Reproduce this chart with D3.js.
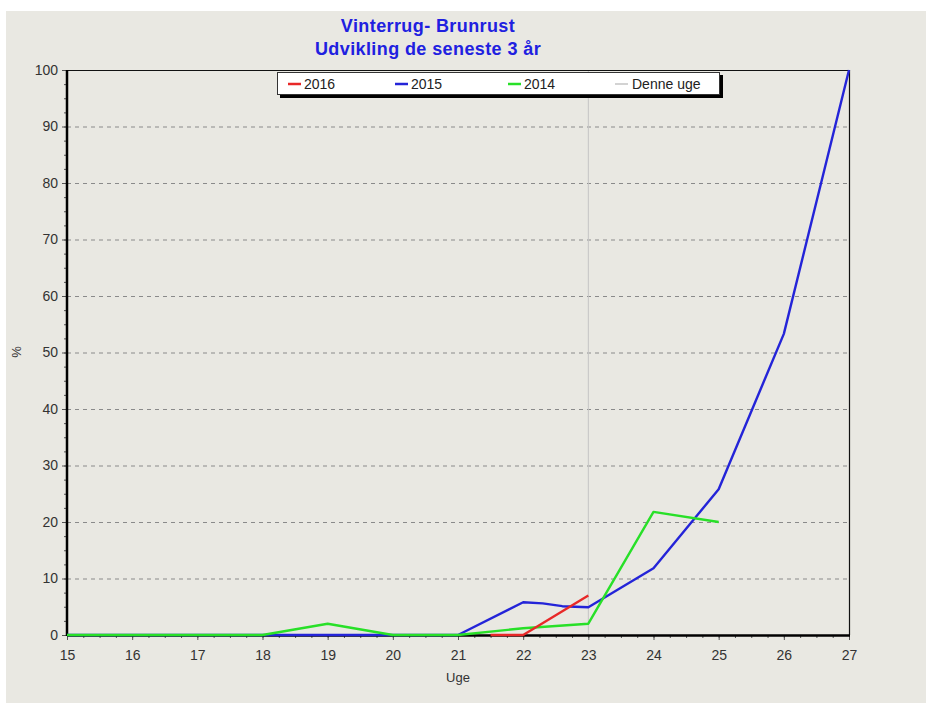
<!DOCTYPE html>
<html><head><meta charset="utf-8">
<script src="https://cdn.jsdelivr.net/npm/d3@7"></script>
<style>body{margin:0;background:#fff;}svg{display:block;}</style>
</head><body>
<script>
const titleLines = ["Vinterrug- Brunrust", "Udvikling de seneste 3 år"];
const seriesNames = ["2016", "2015", "2014"];
const seriesColors = ["#e82828", "#2424d8", "#28e028"];
const weeks2016 = [21.5, 22, 23];
const values2016 = [0, 0, 7];
const weeks2015 = [15, 16, 17, 18, 19, 20, 21, 22, 22.3, 22.6, 23, 24, 25, 26, 27];
const values2015 = [0, 0, 0, 0, 0, 0, 0, 5.8, 5.6, 5.1, 4.9, 11.8, 25.8, 53.3, 100];
const weeks2014 = [15, 16, 17, 18, 19, 20, 21, 22, 23, 24, 25];
const values2014 = [0, 0, 0, 0, 2, 0, 0, 1.2, 2, 21.8, 20];
const currentWeek = 23;
const currentLabel = "Denne uge";
const xTicks = [15, 16, 17, 18, 19, 20, 21, 22, 23, 24, 25, 26, 27];
const yTicks = [0, 10, 20, 30, 40, 50, 60, 70, 80, 90, 100];
const xTitle = "Uge";
const yTitle = "%";

const W = 926, H = 706;
const svg = d3.select("body").append("svg").attr("width", W).attr("height", H);
svg.append("rect").attr("x", 6).attr("y", 11).attr("width", W - 6).attr("height", 692).attr("fill", "#e9e8e2");

const L = 67, R = 849, T = 70, B = 635;
const x = d3.scaleLinear().domain([15, 27]).range([L, R]);
const y = d3.scaleLinear().domain([0, 100]).range([B, T]);
const font = "Arial, 'Liberation Sans', sans-serif";

// title
titleLines.forEach((t, i) => {
  svg.append("text").attr("x", 428).attr("y", 32 + i * 23).attr("text-anchor", "middle")
    .attr("font-family", font).attr("font-weight", "bold").attr("font-size", 18)
    .attr("letter-spacing", 0.4).attr("fill", "#2020e0").text(t);
});

// grid
svg.append("g").selectAll("line").data(yTicks.filter(v => v > 0 && v < 100)).join("line")
  .attr("x1", L).attr("x2", R).attr("y1", d => y(d) + 0.5).attr("y2", d => y(d) + 0.5)
  .attr("stroke", "#8a8a8a").attr("stroke-width", 1).attr("stroke-dasharray", "4,4");

// current week line
svg.append("line").attr("x1", x(currentWeek)).attr("x2", x(currentWeek)).attr("y1", T).attr("y2", B)
  .attr("stroke", "#c4c4c4").attr("stroke-width", 1);

// frame top/right
svg.append("line").attr("x1", L).attr("x2", R + 0.5).attr("y1", T + 0.5).attr("y2", T + 0.5).attr("stroke", "#111").attr("stroke-width", 1.2);
svg.append("line").attr("x1", R + 0.5).attr("x2", R + 0.5).attr("y1", T).attr("y2", B).attr("stroke", "#111").attr("stroke-width", 1.2);

// axes
const xMinor = d3.range(15, 27.001, 0.25);
const yMinor = d3.range(0, 100.001, 2.5);
const xAxisMinor = d3.axisBottom(x).tickValues(xMinor).tickSize(3).tickFormat("");
const yAxisMinor = d3.axisLeft(y).tickValues(yMinor).tickSize(3).tickFormat("");
svg.append("g").attr("transform", `translate(0,${B})`).call(xAxisMinor)
  .call(g => g.select(".domain").remove()).selectAll("line").attr("stroke", "#555");
svg.append("g").attr("transform", `translate(${L},0)`).call(yAxisMinor)
  .call(g => g.select(".domain").remove()).selectAll("line").attr("stroke", "#555");

const xAxis = d3.axisBottom(x).tickValues(xTicks).tickSize(5).tickPadding(10).tickFormat(d3.format("d"));
const yAxis = d3.axisLeft(y).tickValues(yTicks).tickSize(5).tickPadding(4).tickFormat(d3.format("d"));
const gx = svg.append("g").attr("transform", `translate(0,${B})`).call(xAxis);
gx.select(".domain").remove();
gx.selectAll("line").attr("stroke", "#555");
gx.selectAll("text").attr("font-family", font).attr("font-size", 14).attr("fill", "#333");
const gy = svg.append("g").attr("transform", `translate(${L},0)`).call(yAxis);
gy.select(".domain").remove();
gy.selectAll("line").attr("stroke", "#555");
gy.selectAll("text").attr("font-family", font).attr("font-size", 14).attr("fill", "#333");

// series
const line = d3.line().x(d => x(d[0])).y(d => y(d[1]));
const seriesData = [
  d3.zip(weeks2015, values2015),
  d3.zip(weeks2014, values2014),
  d3.zip(weeks2016, values2016)
];
const seriesIdx = [1, 2, 0];
svg.append("line").attr("x1", L).attr("x2", R + 1).attr("y1", B + 0.5).attr("y2", B + 0.5).attr("stroke", "#000").attr("stroke-width", 2.5);
svg.append("line").attr("x1", L).attr("x2", L).attr("y1", T).attr("y2", B + 1).attr("stroke", "#000").attr("stroke-width", 2.5);
seriesData.forEach((d, i) => {
  svg.append("path").datum(d).attr("d", line).attr("fill", "none")
    .attr("stroke", seriesColors[seriesIdx[i]]).attr("stroke-width", 2.4).attr("stroke-linejoin", "round");
});

// axis titles
svg.append("text").attr("x", x(21)).attr("y", 682).attr("text-anchor", "middle")
  .attr("font-family", font).attr("font-size", 13).attr("fill", "#333").text(xTitle);
svg.append("text").attr("transform", "translate(21,352) rotate(-90)").attr("text-anchor", "middle")
  .attr("font-family", font).attr("font-size", 13).attr("fill", "#333").text(yTitle);

// legend
const lg = svg.append("g");
lg.append("rect").attr("x", 280).attr("y", 75).attr("width", 443).attr("height", 23).attr("fill", "#000");
lg.append("rect").attr("x", 277.5).attr("y", 72.5).attr("width", 442).attr("height", 22).attr("fill", "#fff").attr("stroke", "#333").attr("stroke-width", 1);
const legItems = seriesNames.map((n, i) => ({ name: n, color: seriesColors[i], w: 2.5 }))
  .concat([{ name: currentLabel, color: "#c4c4c4", w: 1.5 }]);
const legX = [288, 395, 508, 615];
legItems.forEach((it, i) => {
  lg.append("line").attr("x1", legX[i]).attr("x2", legX[i] + 13).attr("y1", 84).attr("y2", 84)
    .attr("stroke", it.color).attr("stroke-width", it.w);
  lg.append("text").attr("x", legX[i] + (i === 3 ? 17 : 16)).attr("y", 89)
    .attr("font-family", font).attr("font-size", 14).attr("fill", "#222").text(it.name);
});
</script>
</body></html>
